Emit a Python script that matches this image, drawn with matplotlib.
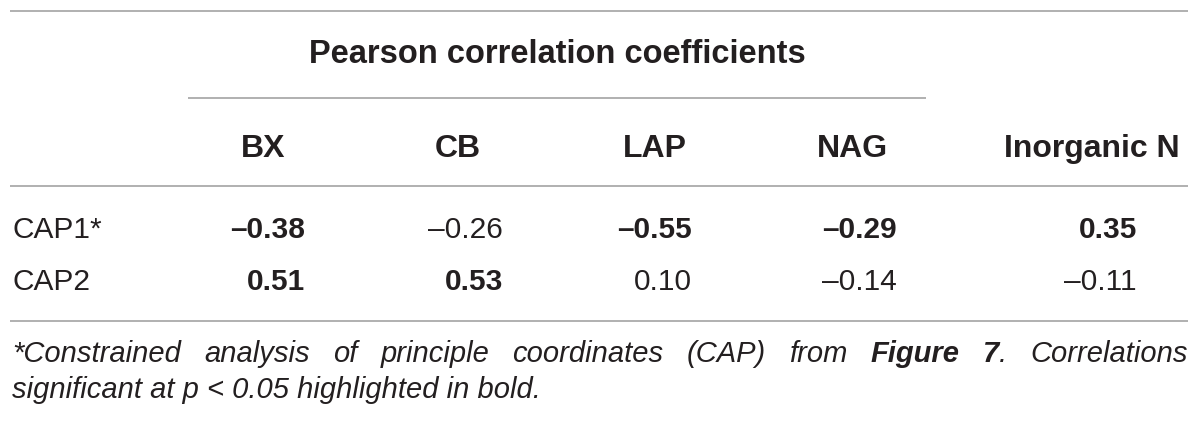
import matplotlib
matplotlib.use("Agg")
import matplotlib.pyplot as plt

# ---- data ----
title = "Pearson correlation coefficients"
columns = ["BX", "CB", "LAP", "NAG", "Inorganic N"]
row_labels = ["CAP1*", "CAP2"]
cap1_values = [-0.38, -0.26, -0.55, -0.29, 0.35]
cap2_values = [0.51, 0.53, 0.10, -0.14, -0.11]
cap1_bold = [True, False, True, True, True]
cap2_bold = [True, True, False, False, False]
footnote_line1 = [[("*Constrained", "normal")], [("analysis", "normal")], [("of", "normal")],
                  [("principle", "normal")], [("coordinates", "normal")], [("(CAP)", "normal")],
                  [("from", "normal")], [("Figure", "bold")], [("7", "bold"), (".", "normal")],
                  [("Correlations", "normal")]]
footnote_line2 = "significant at p < 0.05 highlighted in bold."

# ---- layout ----
W, H = 1200, 427
fig = plt.figure(figsize=(12, 4.27), dpi=100)
ax = fig.add_axes([0, 0, 1, 1])
ax.set_xlim(0, W)
ax.set_ylim(H, 0)
ax.axis("off")

FONT = "Liberation Sans"
TXT = "#231f20"
LINE = "#b0b0b0"
LW = 1.4

ax.hlines(12, 10, 1188, color=LINE, lw=LW)
ax.hlines(99, 188, 926, color=LINE, lw=LW)
ax.hlines(187, 10, 1188, color=LINE, lw=LW)
ax.hlines(322, 10, 1188, color=LINE, lw=LW)

ax.text(557, 63, title, ha="center", va="baseline", fontsize=23.5, fontweight="bold",
        family=FONT, color=TXT)

header_left = [241, 435, 623, 817, 1004]
for x, c in zip(header_left, columns):
    ax.text(x, 157, c, ha="left", va="baseline", fontsize=23, fontweight="bold",
            family=FONT, color=TXT)

value_right = [305, 503, 692, 897, 1137]
row_base = [238, 290]
rows = [(cap1_values, cap1_bold), (cap2_values, cap2_bold)]
BODY = 21.5

def fmt(v):
    s = f"{abs(v):.2f}"
    return ("\u2013" + s) if v < 0 else s

for lab, yb, (vals, bolds) in zip(row_labels, row_base, rows):
    ax.text(12, yb, lab, ha="left", va="baseline", fontsize=BODY, family=FONT, color=TXT)
    for xr, v, b in zip(value_right, vals, bolds):
        ax.text(xr, yb, fmt(v), ha="right", va="baseline", fontsize=BODY,
                fontweight="bold" if b else "normal", family=FONT, color=TXT)

# footnote (justified first line)
FS = 21
fig.canvas.draw()
r = fig.canvas.get_renderer()

def width_of(s, weight):
    t = ax.text(0, 0, s, fontsize=FS, style="italic", fontweight=weight, family=FONT)
    bb = t.get_window_extent(renderer=r)
    t.remove()
    return bb.width  # pixels == data units here

tok_w = [sum(width_of(s, w) for s, w in tok) for tok in footnote_line1]
x0, x1 = 12, 1188
gap = (x1 - x0 - sum(tok_w)) / (len(footnote_line1) - 1)
x = x0
for tok, tw in zip(footnote_line1, tok_w):
    xx = x
    for s, w in tok:
        ax.text(xx, 362, s, ha="left", va="baseline", fontsize=FS, style="italic",
                fontweight=w, family=FONT, color=TXT)
        xx += width_of(s, w)
    x += tw + gap

ax.text(12, 398, footnote_line2, ha="left", va="baseline", fontsize=FS, style="italic",
        family=FONT, color=TXT)

fig.savefig("out.png", dpi=100)
